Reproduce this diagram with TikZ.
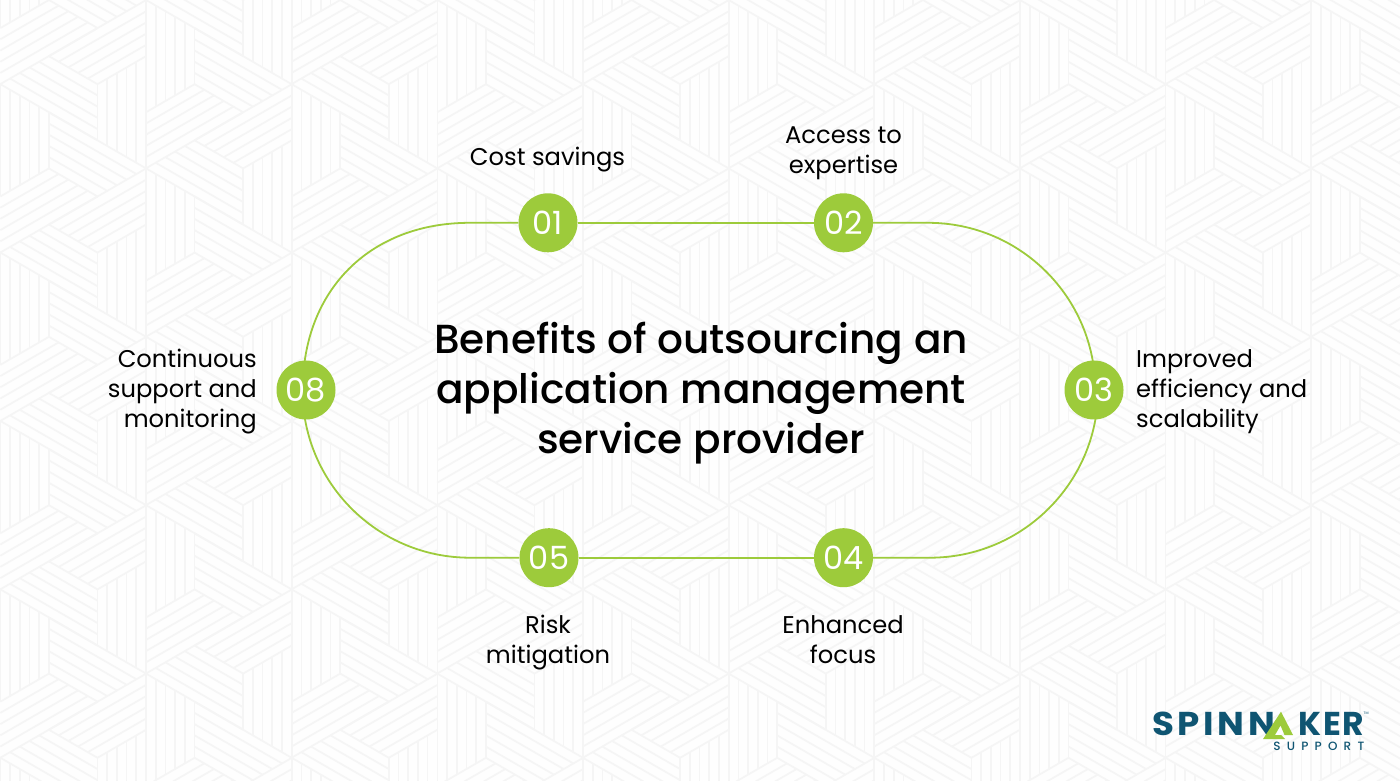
\documentclass[tikz,border=0pt]{standalone}
\usepackage{fontspec}
\setmainfont{Poppins}
\newfontfamily\logofont[LetterSpace=11,FakeStretch=1.08]{Poppins Bold}
\newfontfamily\logofontb[LetterSpace=4]{Poppins Bold}
\newfontfamily\logosub[LetterSpace=52]{Poppins Medium}
\newfontfamily\titlefont{Poppins Medium}
\definecolor{spgreen}{HTML}{9DCB3B}
\definecolor{spteal}{HTML}{0F5572}
\definecolor{stripe}{HTML}{F5F5F5}
\definecolor{paper}{HTML}{FEFEFE}
\pgfdeclarelayer{pat}\pgfdeclarelayer{conn}\pgfsetlayers{pat,conn,main}
\tikzset{
  numnode/.style={circle,fill=spgreen,minimum size=59pt,inner sep=0pt,text=white,font=\fontsize{32}{32}\selectfont},
  lab/.style={inner sep=0pt,text=black,font=\fontsize{24.2}{30}\selectfont},
  conn/.style={draw=spgreen,line width=1.8pt},
  stripeline/.style={draw=stripe,line width=1.7pt},
}
\newcommand{\wedgeset}{%
  (0,0)--(0,-56.13) (9.71,5.61)--(9.71,-61.74) (19.42,11.21)--(19.42,-67.34)
  (29.13,16.82)--(29.13,-72.95) (38.84,22.42)--(38.84,-78.55) (48.55,28.03)--(48.55,-84.16)}
\newcommand{\triset}[3]{%
  \foreach \r in {0,120,240}{%
    \path[stripeline,shift={(#1,#2)},rotate=#3+\r] \wedgeset;}}
\begin{document}
\begin{tikzpicture}[x=1pt,y=1pt]
\useasboundingbox (0,0) rectangle (1400,780);
\begin{pgfonlayer}{pat}
  \fill[paper] (0,0) rectangle (1400,780);
  \begin{scope}
    \clip (0,0) rectangle (1400,780);
    \foreach \i in {0,...,10}{
      \foreach \j in {-1,...,5}{
        \pgfmathsetmacro{\lx}{0.4+145.65*\i}
        \pgfmathsetmacro{\ly}{780-168.4*\j-(iseven(\i)?84.2:0)}
        \pgfmathsetmacro{\rx}{\lx+97.1}
        \pgfmathsetmacro{\qx}{\lx-97.1}
        \triset{\rx}{\ly}{0}
        \triset{\qx}{\ly}{180}
      }
    }
  \end{scope}
\end{pgfonlayer}

\node[numnode] (n1) at (548,557.2) {01};
\node[numnode] (n2) at (843.5,557.2) {02};
\node[numnode] (n3) at (1094,390) {03};
\node[numnode] (n4) at (843.5,222.3) {04};
\node[numnode] (n5) at (549,222.3) {05};
\node[numnode] (n8) at (306,390) {08};

\coordinate (tr) at (928,557.2);
\coordinate (er) at (1098,390);
\coordinate (br) at (930,222.3);
\coordinate (bl) at (470,222.3);
\coordinate (el) at (302.7,390);
\coordinate (tl) at (470,557.2);
\begin{pgfonlayer}{conn}
  \draw[conn] (n1) -- (n2);
  \draw[conn] (n2) -- (tr) arc[start angle=90,end angle=0,radius=167.3];
  \draw[conn] (er) .. controls (1098,297.5) and (1022.5,222.3) .. (br) -- (n4);
  \draw[conn] (n5) -- (n4);
  \draw[conn] (n5) -- (bl) arc[start angle=270,end angle=180,radius=167.5];
  \draw[conn] (el) .. controls (302.7,490) and (370,557.2) .. (tl) -- (n1);
\end{pgfonlayer}

\node[inner sep=0pt,align=center,font=\titlefont\fontsize{40.6}{50}\selectfont] (title) at (701,386.5) {Benefits of outsourcing an\\application management\\service provider};

\node[lab,align=center] (l1) at (547.5,620) {Cost savings};
\node[lab,align=center] (l2) at (843.5,627) {Access to\\expertise};
\node[lab,align=left,anchor=west] (l3) at (1136,388) {Improved\\efficiency and\\scalability};
\node[lab,align=center] (l4) at (843,140) {Enhanced\\focus};
\node[lab,align=center] (l5) at (548,137.5) {Risk\\mitigation};
\node[lab,align=right,anchor=east] (l8) at (257,388) {Continuous\\support and\\monitoring};

% logo
\node[inner sep=0pt,anchor=base west,text=spteal,font=\logofont\fontsize{33}{33}\selectfont] (logoa) at (1152,45) {SPINN};
\node[inner sep=0pt,anchor=base east,text=spteal,font=\logofontb\fontsize{33}{33}\selectfont] (logob) at (1364,45) {KER};
\fill[spgreen] (1281,68.3) -- (1293,45) -- (1284.5,45) -- (1280.5,54.5) -- (1275,45) -- (1281,45) -- (1285,41) -- (1263,41) -- cycle;
\node[inner sep=0pt,anchor=base east,text=spteal,font=\logosub\fontsize{12}{13}\selectfont] (logoc) at (1364.5,29.3) {SUPPORT};
\node[inner sep=0pt,anchor=base west,text=spteal,font=\fontsize{3.5}{4}\selectfont] (logot) at (1363.5,66) {TM};
\end{tikzpicture}
\end{document}
